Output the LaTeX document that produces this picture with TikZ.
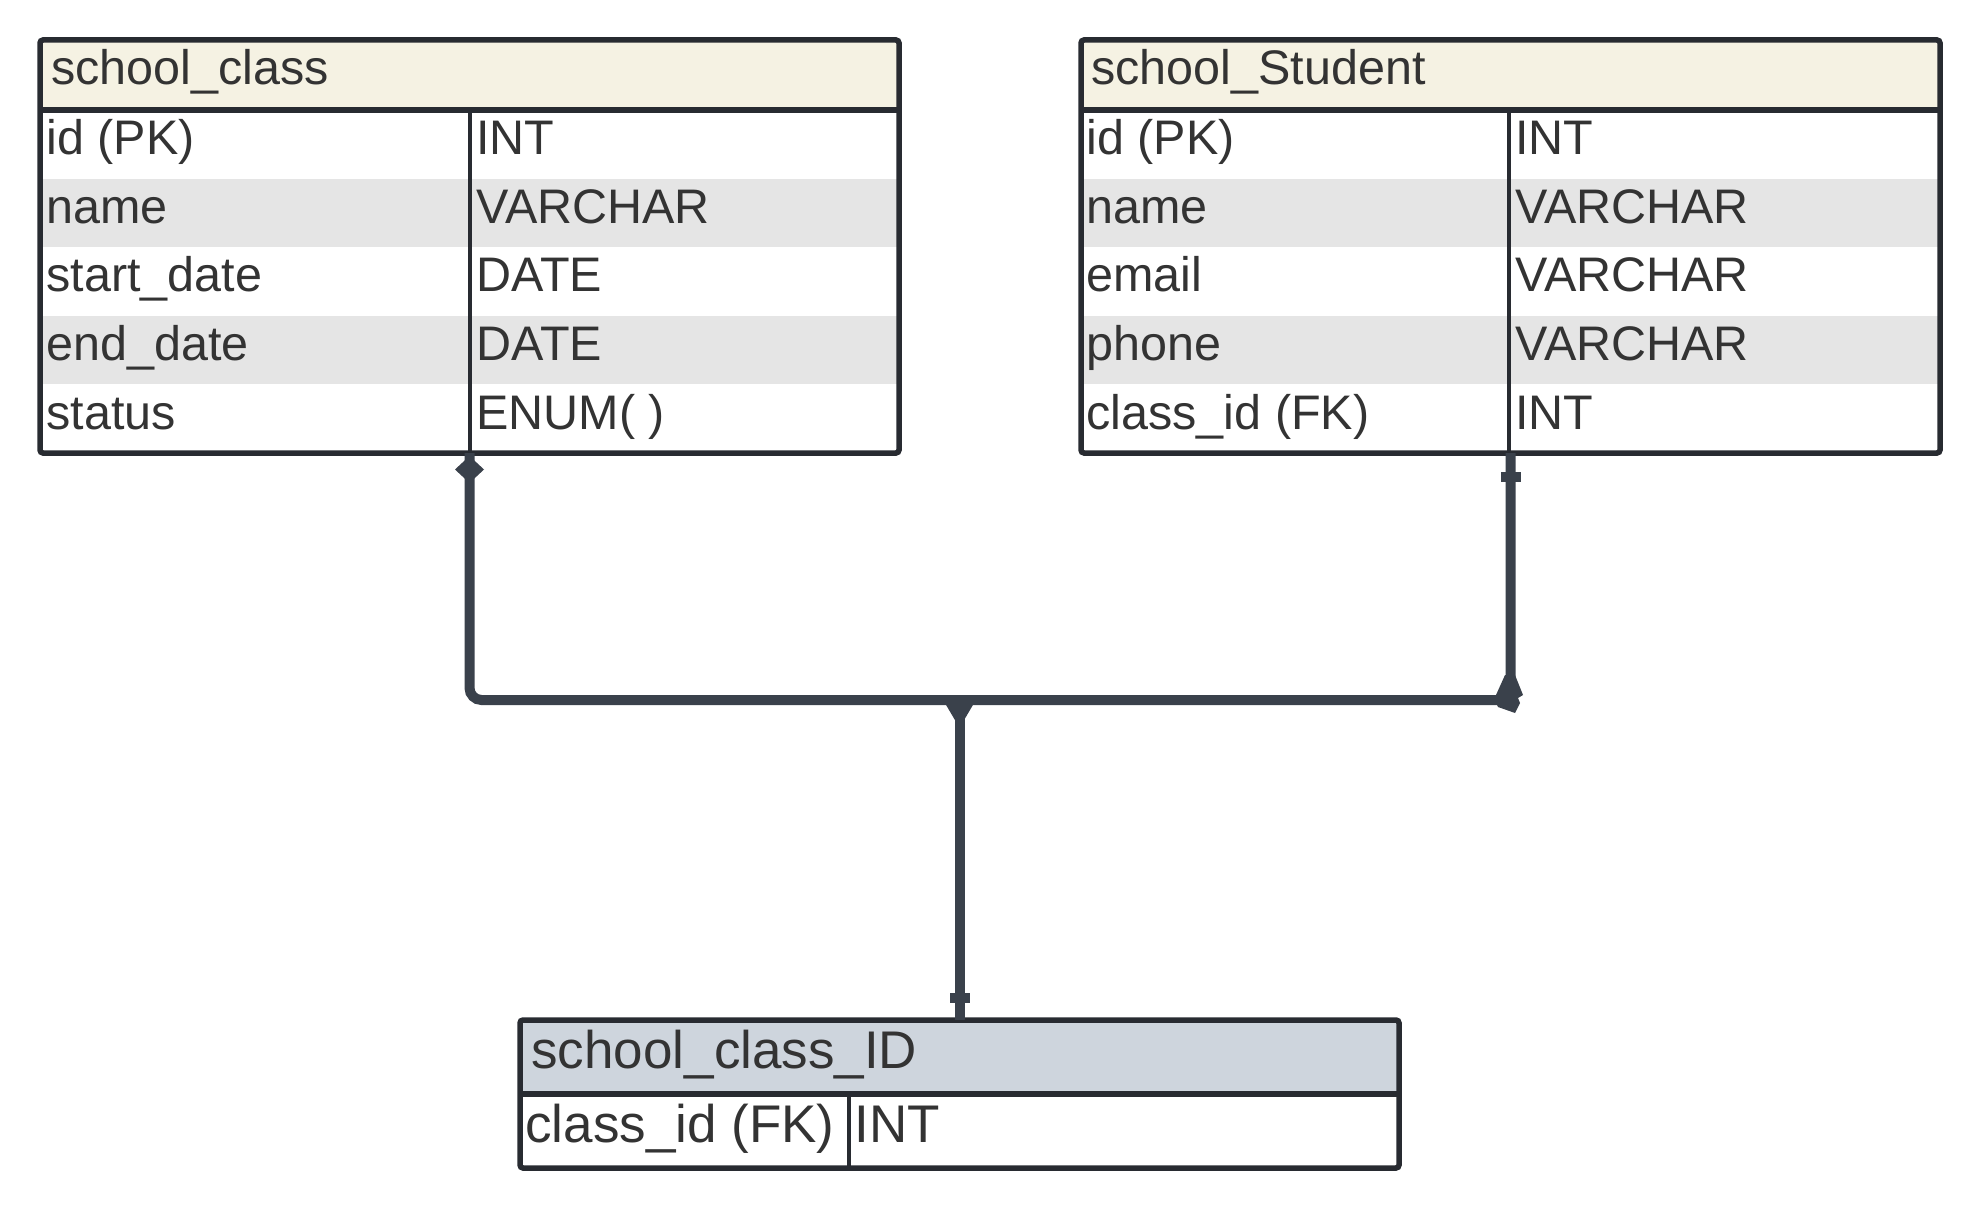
\documentclass[tikz,border=0pt]{standalone}
\usepackage{fontspec}
\setmainfont{Liberation Sans}
\usetikzlibrary{calc}
\definecolor{edge}{HTML}{282B31}
\definecolor{wire}{HTML}{3A414B}
\definecolor{cream}{HTML}{F5F2E3}
\definecolor{slate}{HTML}{CED5DD}
\definecolor{stripe}{HTML}{E5E5E5}
\definecolor{ink}{HTML}{333333}

\begin{document}
\begin{tikzpicture}[x=0.5pt,y=-0.5pt,
		frame/.style={draw=edge,line width=2.75pt,rounded corners=1.5pt,inner sep=0pt,outer sep=0pt,anchor=north west},
		rule/.style={draw=edge,line width=2.75pt},
		divider/.style={draw=edge,line width=2pt},
		cell/.style={anchor=base west,inner sep=0pt,text=ink,font=\fontsize{24.25}{29}\selectfont},
		bigcell/.style={cell,font=\fontsize{26.5}{32}\selectfont},
		link/.style={draw=wire,line width=5pt}]
		
		\useasboundingbox (0,0) rectangle (1980,1208);
		
		% school_class table
		\fill[cream] (40,40) rectangle (899,110);
		\foreach \r in {1,3} \fill[stripe] (40,{110+68.6*\r}) rectangle (899,{110+68.6*(\r+1)});
		\node[frame,minimum width=429.5pt,minimum height=206.5pt] (cls) at (40,40) {};
		\draw[rule] (40,110) -- (899,110);
		\draw[divider] (470,110) -- (470,453);
		\node[cell] (clsTitle) at (51,85) {school\_class};
		\foreach \f/\t [count=\i from 0] in {id (PK)/INT, name/VARCHAR, start\_date/DATE, end\_date/DATE, status/ENUM( )} {
			\node[cell] (clsF\i) at (46,{154.5+68.7*\i}) {\f};
			\node[cell] (clsT\i) at (476,{154.5+68.7*\i}) {\t};
		}
		
		% school_Student table
		\fill[cream] (1081,40) rectangle (1940,110);
		\foreach \r in {1,3} \fill[stripe] (1081,{110+68.6*\r}) rectangle (1940,{110+68.6*(\r+1)});
		\node[frame,minimum width=429.5pt,minimum height=206.5pt] (stu) at (1081,40) {};
		\draw[rule] (1081,110) -- (1940,110);
		\draw[divider] (1509,110) -- (1509,453);
		\node[cell] (stuTitle) at (1091,85) {school\_Student};
		\foreach \f/\t [count=\i from 0] in {id (PK)/INT, name/VARCHAR, email/VARCHAR, phone/VARCHAR, class\_id (FK)/INT} {
			\node[cell] (stuF\i) at (1086,{154.5+68.7*\i}) {\f};
			\node[cell] (stuT\i) at (1515,{154.5+68.7*\i}) {\t};
		}
		
		% school_class_ID table
		\fill[slate] (520,1020) rectangle (1399,1094);
		\node[frame,minimum width=439.5pt,minimum height=74pt] (cid) at (520,1020) {};
		\draw[rule] (520,1094) -- (1399,1094);
		\draw[divider] (849,1094) -- (849,1168);
		\node[bigcell] (cidTitle) at (531,1068) {school\_class\_ID};
		\node[bigcell] (cidF0) at (525,1142) {class\_id (FK)};
		\node[bigcell] (cidT0) at (854,1142) {INT};
		
		% relationship lines
		\coordinate (hub) at (961,700);
		\draw[link,rounded corners=6pt] (cls.south) -- (cls.south |- hub) -- (stu.south |- hub) -- (stu.south);
		\draw[link] (cid.north |- hub) -- (cid.north);
		
		% end marks
		\newcommand{\keybar}[1]{% short bar across a line at (#1)
			\fill[wire] ($(#1)+(-10,-5)$) rectangle ++(20,10);
		}
		\fill[wire] ($(cls.south)+(0,3)$) -- ++(14.5,13.5) -- ++(-14.5,13.5) -- ++(-14.5,-13.5) -- cycle;
		\keybar{$(stu.south)+(0,24)$}
		\keybar{$(cid.north)+(0,-22)$}
		\fill[wire] ($(stu.south |- hub)+(-5.5,-25)$) -- ++(10,0) -- ++(8,20) -- ++(-5,3) -- ++(2,5)
			-- ++(-5,10) -- ++(-17,-6) -- ++(-2,-4) -- ++(0,-8) -- cycle;
		\fill[wire] ($(cid.north |- hub)+(-14,4)$) -- ++(28,0) -- ++(-10,17) -- ++(-8,0) -- cycle;
	\end{tikzpicture}
\end{document}
